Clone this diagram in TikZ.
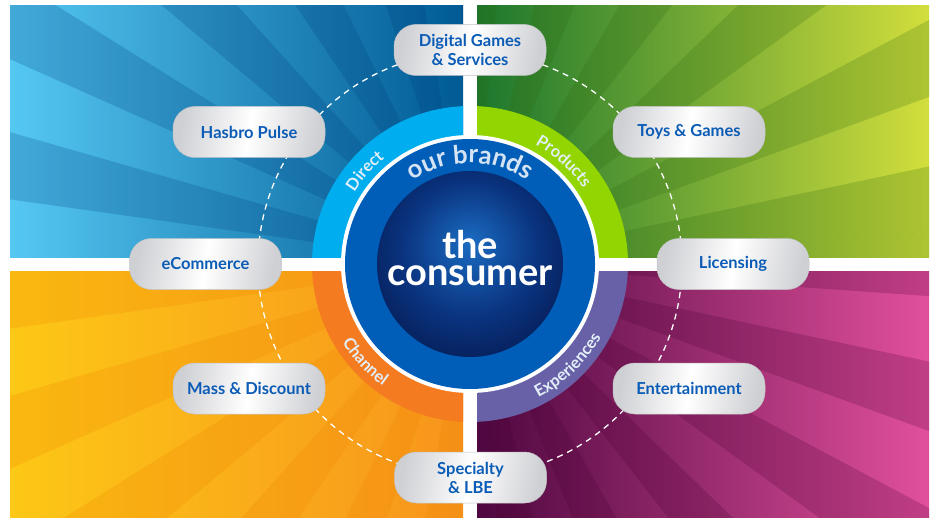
\documentclass[tikz,border=0pt]{standalone}
\usepackage{fontspec}
\setmainfont{Lato}
\usetikzlibrary{decorations.text}
\definecolor{tlL}{HTML}{55C8F2}
\definecolor{tlM}{HTML}{00A6DA}
\definecolor{tlR}{HTML}{005A94}
\definecolor{tlS}{HTML}{003E7E}
\definecolor{trL}{HTML}{1C772E}
\definecolor{trM}{HTML}{76B53C}
\definecolor{trR}{HTML}{D2DE3C}
\definecolor{trS}{HTML}{2E6A10}
\definecolor{blL}{HTML}{FDC816}
\definecolor{blM}{HTML}{FBB024}
\definecolor{blR}{HTML}{F7941D}
\definecolor{blS}{HTML}{F08200}
\definecolor{brL}{HTML}{4E0740}
\definecolor{brM}{HTML}{A0197E}
\definecolor{brR}{HTML}{E2509C}
\definecolor{brS}{HTML}{4A0032}
\definecolor{ringD}{HTML}{00AEEF}
\definecolor{ringP}{HTML}{93D500}
\definecolor{ringC}{HTML}{F47B20}
\definecolor{ringE}{HTML}{6961A7}
\definecolor{brandblue}{HTML}{005EB8}
\definecolor{pilltext}{HTML}{0B5CB6}
\definecolor{pillgray}{HTML}{CFD0D4}
\definecolor{pilledge}{HTML}{C2C3C7}
\definecolor{core1}{HTML}{1B6CC2}
\definecolor{core2}{HTML}{0A3480}
\definecolor{core3}{HTML}{030C38}
\definecolor{ringtext}{HTML}{E2EEF8}
\definecolor{brandtext}{HTML}{D5E4F4}
\pgfdeclareradialshading{coreshade}{\pgfpoint{0bp}{6bp}}{color(0bp)=(core1); color(18bp)=(core2); color(40bp)=(core3); color(50bp)=(core3)}
\newcommand\ringfont{\fontsize{16.5}{16.5}\selectfont\bfseries}
\newcommand\brandfont{\fontsize{25.5}{25.5}\selectfont\bfseries}
\tikzset{
  pill/.style={rounded corners=22pt, minimum width=152pt, minimum height=51pt,
    left color=pillgray, right color=pillgray, middle color=white, shading angle=80,
    draw=pilledge, line width=0.5pt, text=pilltext, align=center, inner sep=0pt,
    font=\fontsize{16.5}{19}\selectfont\bfseries},
  dashring/.style={white, line width=1.3pt, dash pattern=on 6pt off 5pt},
  bigtext/.style={text=white, font=\fontsize{38}{38}\selectfont\bfseries, anchor=base, inner sep=0pt}
}
\newcommand\topword[4]{% angle, radius, half span, text
  \path[decorate, decoration={text along path, text align=center, text color=ringtext, text={|\ringfont|#4}}]
    (470,256) ++(#1+#3:#2) arc[start angle=#1+#3, end angle=#1-#3, radius=#2];}
\newcommand\bottomword[4]{%
  \path[decorate, decoration={text along path, text align=center, text color=ringtext, text={|\ringfont|#4}}]
    (470,256) ++(#1-#3:#2) arc[start angle=#1-#3, end angle=#1+#3, radius=#2];}
\newcommand\quadrant[9]{% x1 y1 x2 y2 left middle right ringcolor stripecolor
  \begin{scope}
    \clip (#1,#2) rectangle (#3,#4);
    \shade[left color=#5, middle color=#6, right color=#7] (#1,#2) rectangle (#3,#4);
    \foreach \a in {4,20,...,356}
      \fill[#9, opacity=0.22, shift={(470,256)}] (0,0) -- (\a:800) -- (\a+8:800) -- cycle;
    \fill[#8] (470,256) circle[radius=158];
  \end{scope}}
\begin{document}
\begin{tikzpicture}[x=1pt,y=1pt]
\useasboundingbox (0,0) rectangle (933,520);
\fill[white] (0,0) rectangle (933,520);
\quadrant{10}{263}{463}{514}{tlL}{tlM}{tlR}{ringD}{tlS}
\quadrant{477}{263}{929}{514}{trL}{trM}{trR}{ringP}{trS}
\quadrant{10}{3}{463}{249}{blL}{blM}{blR}{ringC}{blS}
\quadrant{477}{3}{929}{249}{brL}{brM}{brR}{ringE}{brS}
% dashed orbit
\coordinate (C) at (470,256);
\draw[dashring] (C) circle[radius=212];
% rings
\fill[white] (C) circle[radius=129];
\fill[brandblue] (C) circle[radius=125];
\path[shading=coreshade] (C) circle[radius=93];
% ring labels
\topword{138.5}{136}{40}{Direct}
\topword{47.5}{136}{40}{Products}
\bottomword{223}{150}{40}{Channel}
\bottomword{314}{150}{40}{Experiences}
\path[decorate, decoration={text along path, text align=center, text color=brandtext, text={|\brandfont|our brands}}]
  (C) ++(150:101) arc[start angle=150, end angle=30, radius=101];
% centre text
\node[bigtext] (the) at (470,262) {the};
\node[bigtext] (cons) at (470,235) {consumer};
% pills
\node[pill] (dgs) at (470,470) {Digital Games\\\& Services};
\node[pill] (toys) at (689,388) {Toys \& Games};
\node[pill] (lic) at (733,256) {Licensing};
\node[pill] (ent) at (689,131.5) {Entertainment};
\node[pill] (spec) at (470.5,42.5) {Specialty\\\& LBE};
\node[pill] (mass) at (249,131.5) {Mass \& Discount};
\node[pill] (ecom) at (205.5,256) {eCommerce};
\node[pill] (pulse) at (249,388) {Hasbro Pulse};
\end{tikzpicture}
\end{document}
